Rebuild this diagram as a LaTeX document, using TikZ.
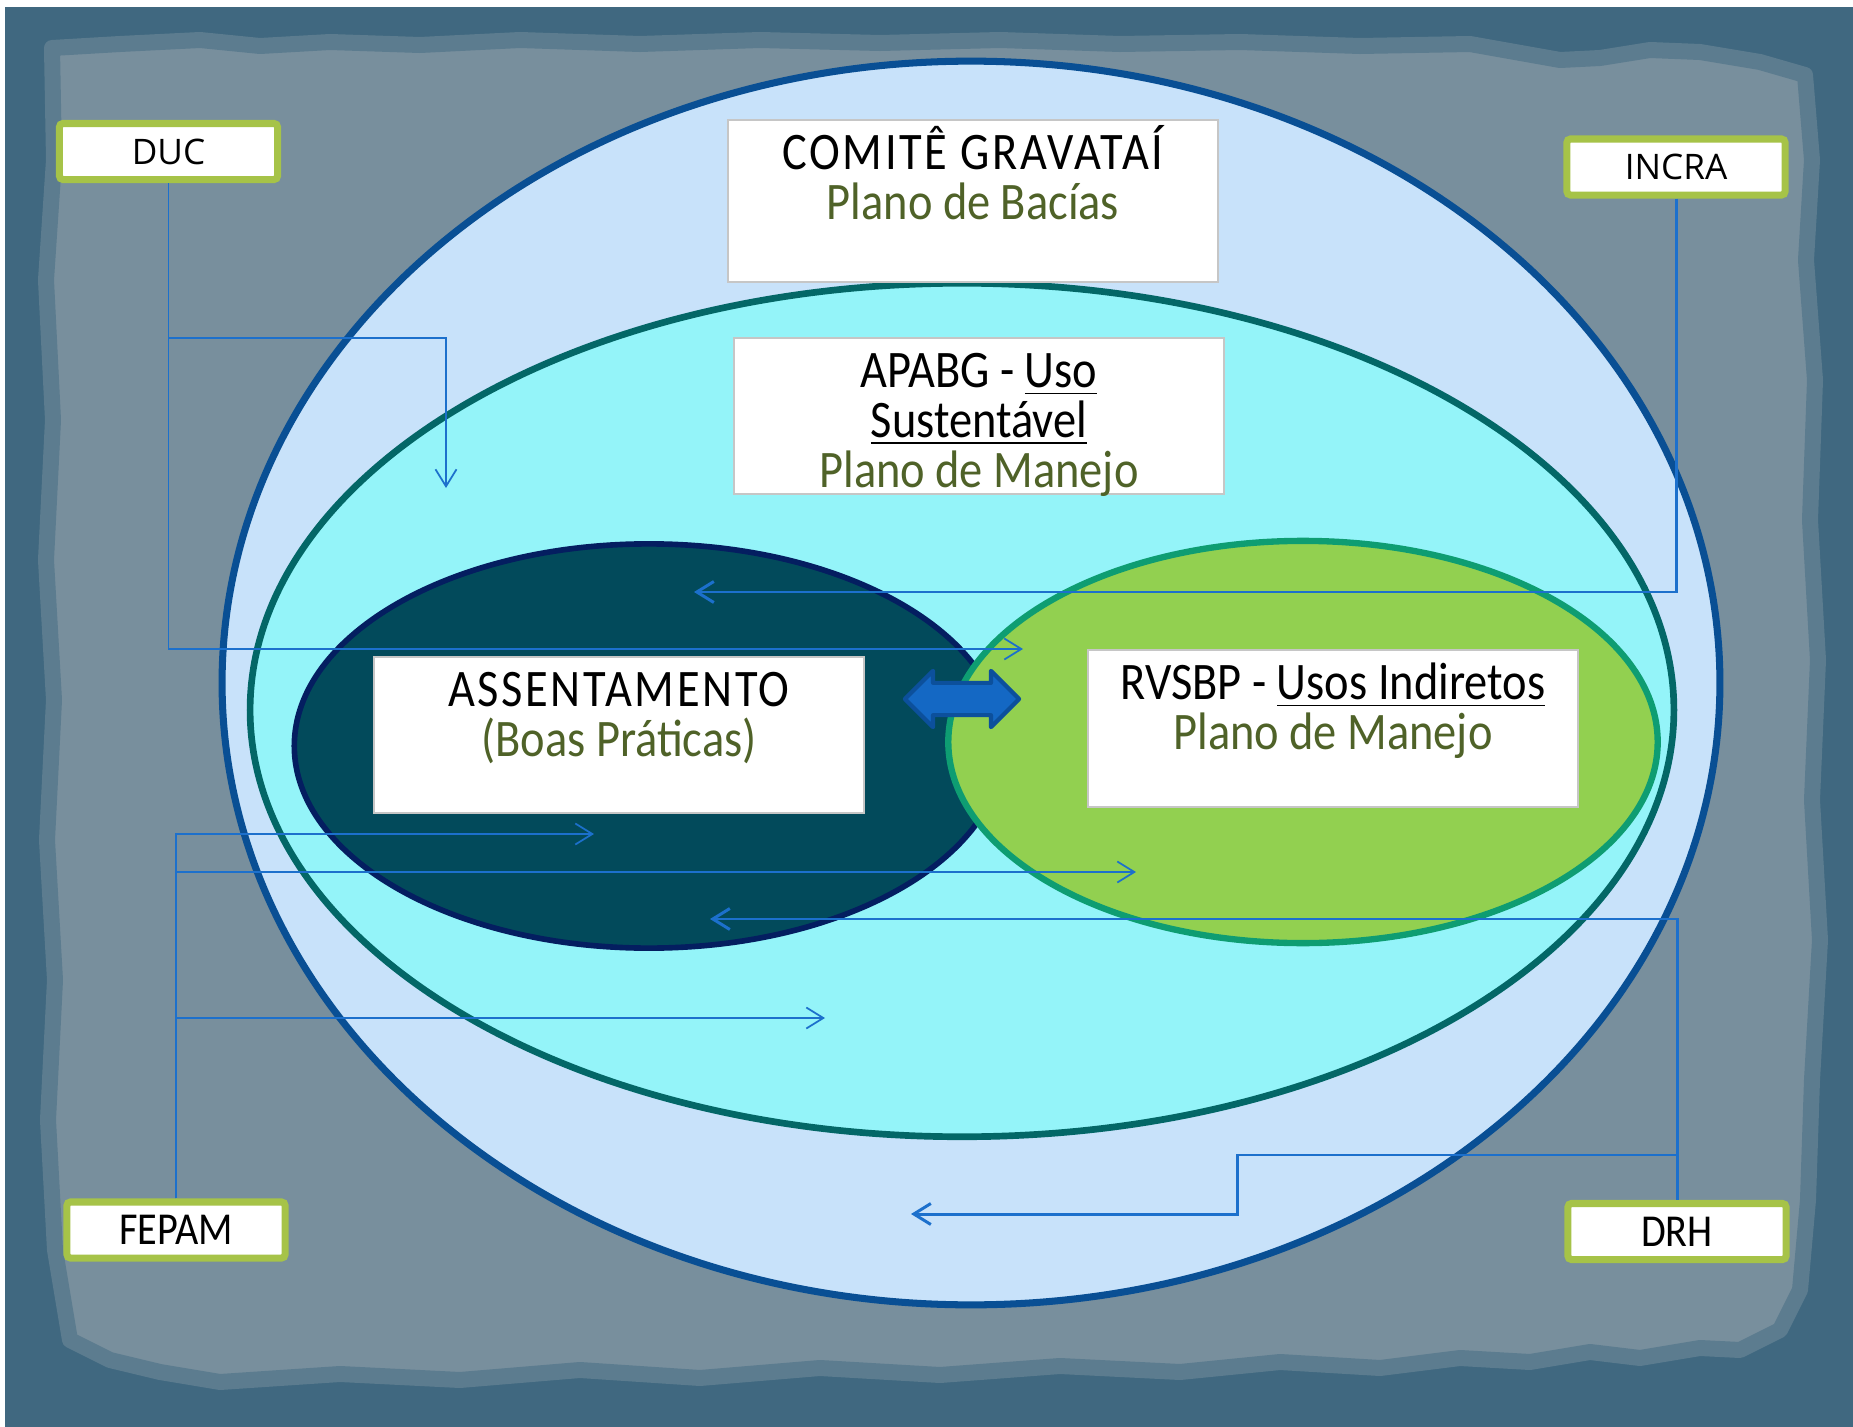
\documentclass[tikz,border=0pt]{standalone}
\usepackage{fontspec}
\usepackage{tikz}
\usetikzlibrary{shapes,arrows,positioning,fit,arrows.meta}
\usepackage{xcolor}

\newfontfamily\boxfont{Carlito}[FakeStretch=0.88]
\newfontfamily\tagfont{Open Sans}
\newcommand{\boxlines}[1]{\parbox[t]{4.9cm}{\centering #1}}
\newcommand{\spaced}[1]{{\addfontfeature{LetterSpace=5}#1}}

\definecolor{bgdark}{RGB}{64,104,128}
\definecolor{bgmid}{RGB}{92,124,143}
\definecolor{bgpaper}{RGB}{120,143,157}
\definecolor{comitefill}{RGB}{200,226,250}
\definecolor{comiteedge}{RGB}{9,79,148}
\definecolor{apafill}{RGB}{148,244,249}
\definecolor{apaedge}{RGB}{3,103,103}
\definecolor{assfill}{RGB}{2,74,91}
\definecolor{assedge}{RGB}{4,30,96}
\definecolor{rvsfill}{RGB}{146,208,80}
\definecolor{rvsedge}{RGB}{14,157,114}
\definecolor{linkblue}{RGB}{28,112,204}
\definecolor{taggreen}{RGB}{166,195,72}
\definecolor{olivetext}{RGB}{79,98,40}
\definecolor{arrowfill}{RGB}{20,104,196}
\definecolor{arrowedge}{RGB}{12,80,156}

\begin{document}
\begin{tikzpicture}[x=0.01cm, y=-0.01cm]

% Styles
\tikzstyle{region} = [ellipse, inner sep=0pt]
\tikzstyle{box} = [rectangle, draw=gray!45, fill=white, line width=0.5pt, minimum width=4.9cm, inner sep=0pt, anchor=north, text height=0.5cm, text depth=1.06cm, font=\boxfont\fontsize{15}{14.2}\selectfont]
\tikzstyle{tag} = [rectangle, draw=taggreen, fill=white, line width=2pt, rounded corners=1pt, minimum width=2.18cm, minimum height=0.56cm, inner sep=0pt]
\tikzstyle{link} = [draw=linkblue, line width=0.5pt, -{Straight Barb[length=1.7mm, width=2.1mm]}]
\tikzstyle{biglink} = [link, line width=0.85pt]

\useasboundingbox (0,0) rectangle (1853,1427);

% Background
\fill[white] (0,0) rectangle (1853,1427);
\fill[bgdark] (5,7) rectangle (1853,1427);
\filldraw[fill=bgpaper, draw=bgmid, line width=0.16cm, line join=round]
  (52,48) -- (120,44) -- (200,40) -- (260,46) -- (330,42) -- (420,45) -- (520,40) -- (640,44)
  -- (760,40) -- (880,43) -- (1000,40) -- (1120,44) -- (1240,42) -- (1360,46) -- (1470,44)
  -- (1560,60) -- (1600,58) -- (1650,50) -- (1700,52) -- (1760,62) -- (1805,75) -- (1812,160)
  -- (1806,260) -- (1815,380) -- (1810,520) -- (1818,660) -- (1812,800) -- (1820,940)
  -- (1812,1080) -- (1808,1200) -- (1800,1290) -- (1780,1330) -- (1740,1350) -- (1700,1348)
  -- (1640,1358) -- (1590,1352) -- (1530,1362) -- (1460,1358) -- (1380,1368) -- (1280,1362)
  -- (1180,1372) -- (1060,1366) -- (940,1375) -- (820,1368) -- (700,1378) -- (580,1370)
  -- (460,1380) -- (340,1374) -- (220,1382) -- (160,1372) -- (110,1360) -- (70,1340)
  -- (55,1250) -- (48,1120) -- (55,980) -- (47,840) -- (54,700) -- (46,560) -- (53,420)
  -- (46,280) -- (54,160) -- cycle;

% Regions
\node[region, draw=comiteedge, fill=comitefill, line width=2pt, minimum width=14.97cm, minimum height=12.43cm] (comite) at (971,683) {};
\node[region, draw=apaedge, fill=apafill, line width=1.9pt, minimum width=14.23cm, minimum height=8.53cm] (apabg) at (962,710) {};
\node[region, draw=assedge, fill=assfill, line width=1.6pt, minimum width=7.09cm, minimum height=4.04cm] (assent) at (649,746) {};
\node[region, draw=rvsedge, fill=rvsfill, line width=1.8pt, minimum width=7.09cm, minimum height=4.02cm] (rvsbp) at (1303,742) {};

% Nodes
\node[box, text depth=1.12cm] (comitetxt) at (973,119) {\boxlines{\spaced{COMITÊ GRAVATAÍ}\\\textcolor{olivetext}{Plano de Bacías}}};
\node[box] (apabgtxt) at (979,337) {\boxlines{APABG - \underline{Uso}\\\underline{Sustentável}\\\textcolor{olivetext}{Plano de Manejo}}};
\node[box] (assenttxt) at (619,656) {\boxlines{\spaced{ASSENTAMENTO}\\\textcolor{olivetext}{(Boas Práticas)}}};
\node[box, text depth=1.07cm] (rvsbptxt) at (1333,649) {\boxlines{RVSBP - \underline{Usos Indiretos}\\\textcolor{olivetext}{Plano de Manejo}}};

\node[double arrow, fill=arrowfill, draw=arrowedge, line width=1.2pt, line join=round, minimum height=1.14cm, inner xsep=0pt, inner ysep=0.14cm, double arrow head extend=0.12cm] (exchange) at (962,699) {};

\node[tag, font=\tagfont\fontsize{10}{12}\selectfont] (duc) at (168.5,151.5) {DUC};
\node[tag, font=\tagfont\fontsize{10}{12}\selectfont] (incra) at (1676,167) {INCRA};
\node[tag, font=\boxfont\fontsize{13}{15}\selectfont] (fepam) at (176,1230) {FEPAM};
\node[tag, font=\boxfont\fontsize{13}{15}\selectfont] (drh) at (1677,1231.5) {DRH};

% Arrow ends
\coordinate (ducA) at (1023,649);
\coordinate (ducK) at (446,338);
\coordinate (ducB) at (446,488);
\coordinate (incraA) at (694,592);
\coordinate (fepA) at (594,834);
\coordinate (fepB) at (1136,872);
\coordinate (fepC) at (825,1018);
\coordinate (drhA) at (710,919);
\coordinate (drhK) at (1237,1155);
\coordinate (drhB) at (911,1214);

% Edges
\draw[link] (duc.south) |- (ducA);
\draw[link] (duc.south) |- (ducK) -- (ducB);
\draw[biglink] (incra.south) |- (incraA);
\draw[link] (fepam.north) |- (fepA);
\draw[link] (fepam.north) |- (fepB);
\draw[link] (fepam.north) |- (fepC);
\draw[biglink] (drh.north) |- (drhA);
\draw[biglink] (drh.north) |- (drhK) |- (drhB);

\end{tikzpicture}
\end{document}
